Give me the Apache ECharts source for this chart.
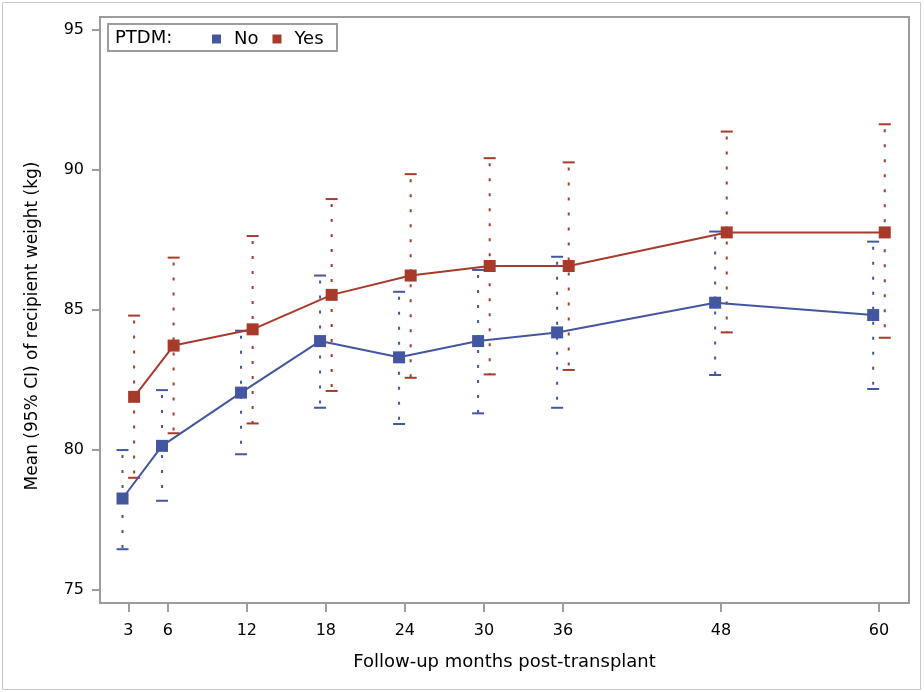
<!DOCTYPE html>
<html>
<head>
<meta charset="utf-8">
<script src="https://cdn.jsdelivr.net/npm/echarts@6/dist/echarts.min.js"></script>
<style>
  html, body { margin: 0; padding: 0; background: #fff; }
  #weightChart { width: 924px; height: 692px; }
</style>
</head>
<body>
<div id="weightChart"></div>
<script>
// follow-up months
var months = [3, 6, 12, 18, 24, 30, 36, 48, 60];
var yTicks = [75, 80, 85, 90, 95];

// PTDM = No
var noMean  = [78.27, 80.15, 82.05, 83.89, 83.31, 83.89, 84.20, 85.26, 84.82];
var noLower = [76.46, 78.19, 79.85, 81.51, 80.93, 81.31, 81.51, 82.68, 82.18];
var noUpper = [80.00, 82.14, 84.26, 86.23, 85.65, 86.43, 86.90, 87.80, 87.44];

// PTDM = Yes
var yesMean  = [81.90, 83.73, 84.31, 85.54, 86.23, 86.57, 86.57, 87.77, 87.77];
var yesLower = [79.01, 80.60, 80.95, 82.11, 82.58, 82.70, 82.86, 84.20, 84.01];
var yesUpper = [84.80, 86.87, 87.64, 88.96, 89.85, 90.42, 90.27, 91.37, 91.63];

var BLUE = '#4556a0';
var RED = '#a83a2c';
var DODGE = 0.44;  // groups are shifted a bit left/right of the tick
var FONT = 'DejaVu Sans';

function pts(mean, shift) {
  return months.map(function (m, i) { return [m + shift, mean[i]]; });
}
function bars(lo, hi, shift) {
  return months.map(function (m, i) { return [m + shift, lo[i], hi[i]]; });
}

function errorBar(color) {
  return function (params, api) {
    var x = api.value(0);
    var pLo = api.coord([x, api.value(1)]);
    var pHi = api.coord([x, api.value(2)]);
    var cap = 6;
    var capStyle = { stroke: color, lineWidth: 2 };
    return {
      type: 'group',
      children: [
        { type: 'line', shape: { x1: pHi[0], y1: pHi[1] + 5, x2: pLo[0], y2: pLo[1] },
          style: { stroke: color, lineWidth: 2, lineDash: [3, 12] } },
        { type: 'line', shape: { x1: pHi[0] - cap, y1: pHi[1], x2: pHi[0] + cap, y2: pHi[1] }, style: capStyle },
        { type: 'line', shape: { x1: pLo[0] - cap, y1: pLo[1], x2: pLo[0] + cap, y2: pLo[1] }, style: capStyle }
      ]
    };
  };
}

var chart = echarts.init(document.getElementById('weightChart'));
chart.setOption({
  animation: false,
  textStyle: { fontFamily: FONT },
  grid: {
    left: 100, top: 17, right: 15, bottom: 89,
    show: true, borderColor: '#9c9c9c', borderWidth: 2,
    outerBoundsMode: 'none'
  },
  graphic: [
    { type: 'rect', shape: { x: 2.5, y: 2.5, width: 918, height: 687 },
      style: { fill: 'none', stroke: '#c8c8c8', lineWidth: 1 }, silent: true },
    { type: 'rect', shape: { x: 108, y: 24, width: 229, height: 27 },
      style: { fill: '#fff', stroke: '#9c9c9c', lineWidth: 2 }, z: 50 },
    { type: 'text', x: 115, y: 38, z: 51,
      style: { text: 'PTDM:', fontFamily: FONT, fontSize: 18, fill: '#000', verticalAlign: 'middle' } },
    { type: 'text', x: 33, y: 326, rotation: Math.PI / 2, z: 51,
      style: { text: 'Mean (95% CI) of recipient weight (kg)', fontFamily: FONT, fontSize: 17,
               fill: '#000', align: 'center', verticalAlign: 'middle' } }
  ],
  legend: {
    left: 207, top: 25, z: 60,
    itemWidth: 9, itemHeight: 9, itemGap: 14,
    icon: 'rect',
    textStyle: { fontFamily: FONT, fontSize: 18, color: '#000', padding: [0, 0, 0, 8] },
    data: ['No', 'Yes']
  },
  xAxis: {
    type: 'value',
    min: 0.85, max: 62.28,
    name: 'Follow-up months post-transplant',
    nameLocation: 'middle', nameGap: 50,
    nameTextStyle: { fontFamily: FONT, fontSize: 18, color: '#000' },
    axisLine: { show: false },
    splitLine: { show: false },
    axisTick: { show: true, length: 9, customValues: months, lineStyle: { color: '#9c9c9c', width: 2 } },
    axisLabel: { customValues: months, margin: 20, fontSize: 16, color: '#000', fontFamily: FONT }
  },
  yAxis: {
    type: 'value',
    min: 74.54, max: 95.46,
    axisLine: { show: false },
    splitLine: { show: false },
    axisTick: { show: true, length: 8, customValues: yTicks, lineStyle: { color: '#9c9c9c', width: 2 } },
    axisLabel: { customValues: yTicks, margin: 16, fontSize: 16, color: '#000', fontFamily: FONT }
  },
  series: [
    { type: 'custom', name: 'No', data: bars(noLower, noUpper, -DODGE),
      renderItem: errorBar(BLUE), itemStyle: { color: BLUE }, z: 1,
      encode: { x: 0, y: [1, 2] } },
    { type: 'custom', name: 'Yes', data: bars(yesLower, yesUpper, DODGE),
      renderItem: errorBar(RED), itemStyle: { color: RED }, z: 1,
      encode: { x: 0, y: [1, 2] } },
    { type: 'line', name: 'No', data: pts(noMean, -DODGE), z: 3,
      symbol: 'rect', symbolSize: 12,
      lineStyle: { color: BLUE, width: 2 }, itemStyle: { color: BLUE } },
    { type: 'line', name: 'Yes', data: pts(yesMean, DODGE), z: 3,
      symbol: 'rect', symbolSize: 12,
      lineStyle: { color: RED, width: 2 }, itemStyle: { color: RED } }
  ]
});
</script>
</body>
</html>
